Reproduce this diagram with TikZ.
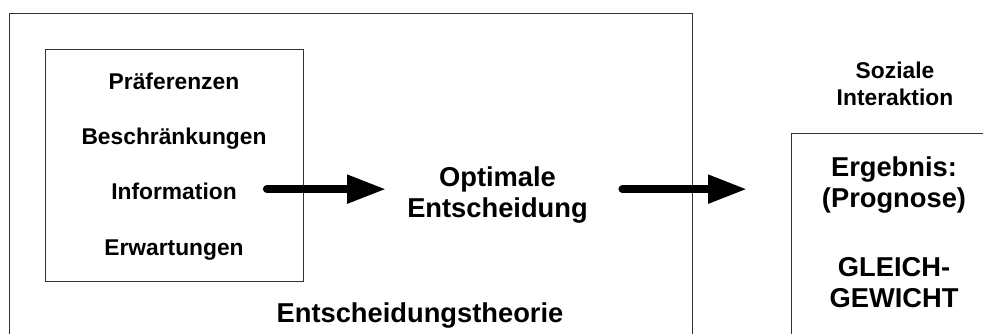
\documentclass[tikz,border=0pt]{standalone}
\usepackage{fontspec}
\setmainfont{Liberation Sans}
\usetikzlibrary{arrows.meta,calc}
\begin{document}
\begin{tikzpicture}[x=1pt,y=-1pt,
  frame/.style={draw=black!80, line width=1pt},
  small/.style={font=\bfseries\fontsize{22.8}{27}\selectfont, inner sep=0pt, align=center},
  big/.style={font=\bfseries\fontsize{27.3}{31}\selectfont, inner sep=0pt, align=center},
  bigarrow/.style={line width=8pt, line cap=round, -{Triangle[length=39pt,width=27pt]}}]
\useasboundingbox (0,0) rectangle (983,334);
% outer frame (open at bottom)
\draw[frame] (9,334) -- (9,13.5) -- (692.7,13.5) -- (692.7,334);
% inner box
\node[frame, minimum width=258pt, minimum height=231pt, inner sep=0pt] (inner) at (174,165.5) {};
\node[small, anchor=base] (p1) at (174,90) {Präferenzen};
\node[small, anchor=base] (p2) at (174,145) {Beschränkungen};
\node[small, anchor=base] (info) at (174,200) {Information};
\node[small, anchor=base] (p4) at (174,255) {Erwartungen};
% middle
\node[big] (opt) at (497.5,195.4) {Optimale\\Entscheidung};
\node[big, anchor=base] (theory) at (420,322) {Entscheidungstheorie};
% right side
\coordinate (rbox) at (791,133.5);
\draw[frame] (791,334) -- (rbox) -- (983,133.5);
\node[small] (soz) at (895,84.2) {Soziale\\Interaktion};
\node[big] (erg) at (894,232.5) {Ergebnis:\\(Prognose)\\[38pt]GLEICH-\\GEWICHT};
% arrows
\draw[bigarrow] ($(info.east)+(30,-2.7)$) -- ($(info.east -| opt.west)+(-21,-2.7)$);
\draw[bigarrow] ($(info.east -| opt.east)+(34.5,-2.7)$) -- ($(info.east -| rbox)+(-44,-2.7)$);
\end{tikzpicture}
\end{document}
